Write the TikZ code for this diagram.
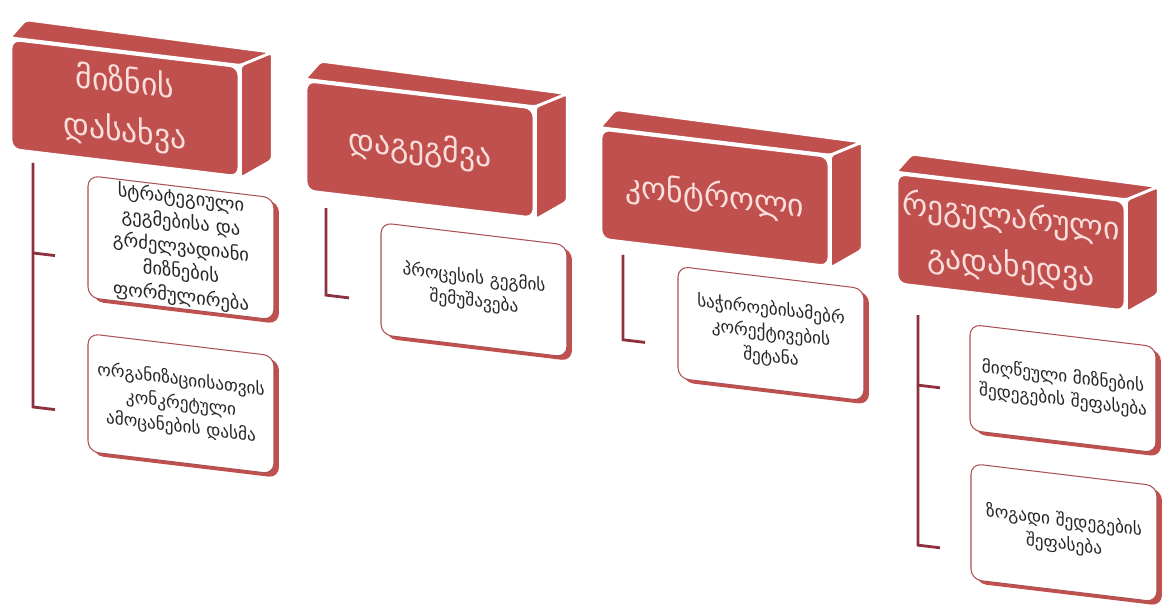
\documentclass[tikz,border=0pt]{standalone}
\usepackage{fontspec}
\setmainfont{DejaVu Sans}
\usetikzlibrary{calc,shadows}

\definecolor{hdrred}{RGB}{192,80,77}
\definecolor{hdrtext}{RGB}{250,222,220}
\definecolor{linkred}{RGB}{140,48,62}
\definecolor{boxline}{RGB}{172,82,84}

\tikzset{
  hdr/.style={rectangle, rounded corners=5pt, fill=hdrred, draw=white, line width=1.6pt,
    minimum width=4.56cm, minimum height=2.2cm, text width=4.4cm, align=center,
    text=hdrtext, font=\fontsize{18}{28}\selectfont, inner sep=0pt},
  hdrface/.style={fill=hdrred, draw=white, line width=1.6pt, rounded corners=2pt},
  task/.style={rectangle, rounded corners=6pt, fill=white, draw=boxline, line width=0.6pt,
    minimum width=3.72cm, text width=3.6cm, align=center, text=black!85, inner sep=0pt,
    font=\fontsize{9.8}{13.5}\selectfont,
    drop shadow={shadow xshift=0.1cm, shadow yshift=-0.08cm, opacity=1, fill=hdrred}},
  link/.style={draw=linkred, line width=1.6pt}
}

\begin{document}
\begin{tikzpicture}[x=0.02cm, y=0.02cm]
\useasboundingbox (0,0) rectangle (1164,-612);

\begin{scope}[yslant=-0.12, transform shape]
  % headers
  \node[hdr] (h1) at (125,-93)  {მიზნის\\დასახვა};
  \node[hdr] (h2) at (420,-99)  {დაგეგმვა};
  \node[hdr] (h3) at (715,-112) {კონტროლი};
  \node[hdr] (h4) at (1011,-121) {რეგულარული\\გადახედვა};

  % top and side of each block
  \foreach \h in {h1,h2,h3,h4}{
    \draw[hdrface] (\h.north west) -- (\h.north east) -- ($(\h.north east)+(32,17)$)
                   -- ($(\h.north west)+(16,20)$) -- cycle;
    \draw[hdrface] (\h.north east) -- ($(\h.north east)+(32,17)$)
                   -- ($(\h.south east)+(32,22)$) -- (\h.south east) -- cycle;
  }

  % tasks
  \node[task, minimum height=2.44cm, font=\fontsize{10.5}{14}\selectfont] (b1a) at (181,-226)
    {სტრატეგიული\\გეგმებისა და\\გრძელვადიანი\\მიზნების\\ფორმულირება};
  \node[task, minimum height=2.36cm] (b1b) at (181,-382)
    {ორგანიზაციისათვის\\კონკრეტული\\ამოცანების დასმა};
  \node[task, minimum height=2.24cm] (b2) at (474,-233)
    {პროცესის გეგმის\\შემუშავება};
  \node[task, minimum height=2.24cm] (b3) at (771,-241)
    {საჭიროებისამებრ\\კორექტივების\\შეტანა};
  \node[task, minimum height=2.12cm] (b4a) at (1063,-261)
    {მიღწეული მიზნების\\შედეგების შეფასება};
  \node[task, minimum height=2.32cm] (b4b) at (1064,-405)
    {ზოგადი შედეგების\\შეფასება};

  % connectors
  \coordinate (c1top) at (33,-159);  \coordinate (c1mid) at (33,-249);  \coordinate (c1bot) at (33,-403);
  \coordinate (k1a) at (55,-249);    \coordinate (k1b) at (55,-403);
  \coordinate (c2top) at (326,-169); \coordinate (c2bot) at (326,-256); \coordinate (k2) at (349,-256);
  \coordinate (c3top) at (623,-180); \coordinate (c3bot) at (623,-265); \coordinate (k3) at (645,-265);
  \coordinate (c4top) at (918,-205); \coordinate (c4mid) at (918,-275); \coordinate (c4bot) at (918,-435);
  \coordinate (k4a) at (940,-275);   \coordinate (k4b) at (940,-435);

  \draw[link] (c1top) -- (c1bot) -- (k1b);
  \draw[link] (c1mid) -- (k1a);
  \draw[link] (c2top) -- (c2bot) -- (k2);
  \draw[link] (c3top) -- (c3bot) -- (k3);
  \draw[link] (c4top) -- (c4bot) -- (k4b);
  \draw[link] (c4mid) -- (k4a);
\end{scope}
\end{tikzpicture}
\end{document}
